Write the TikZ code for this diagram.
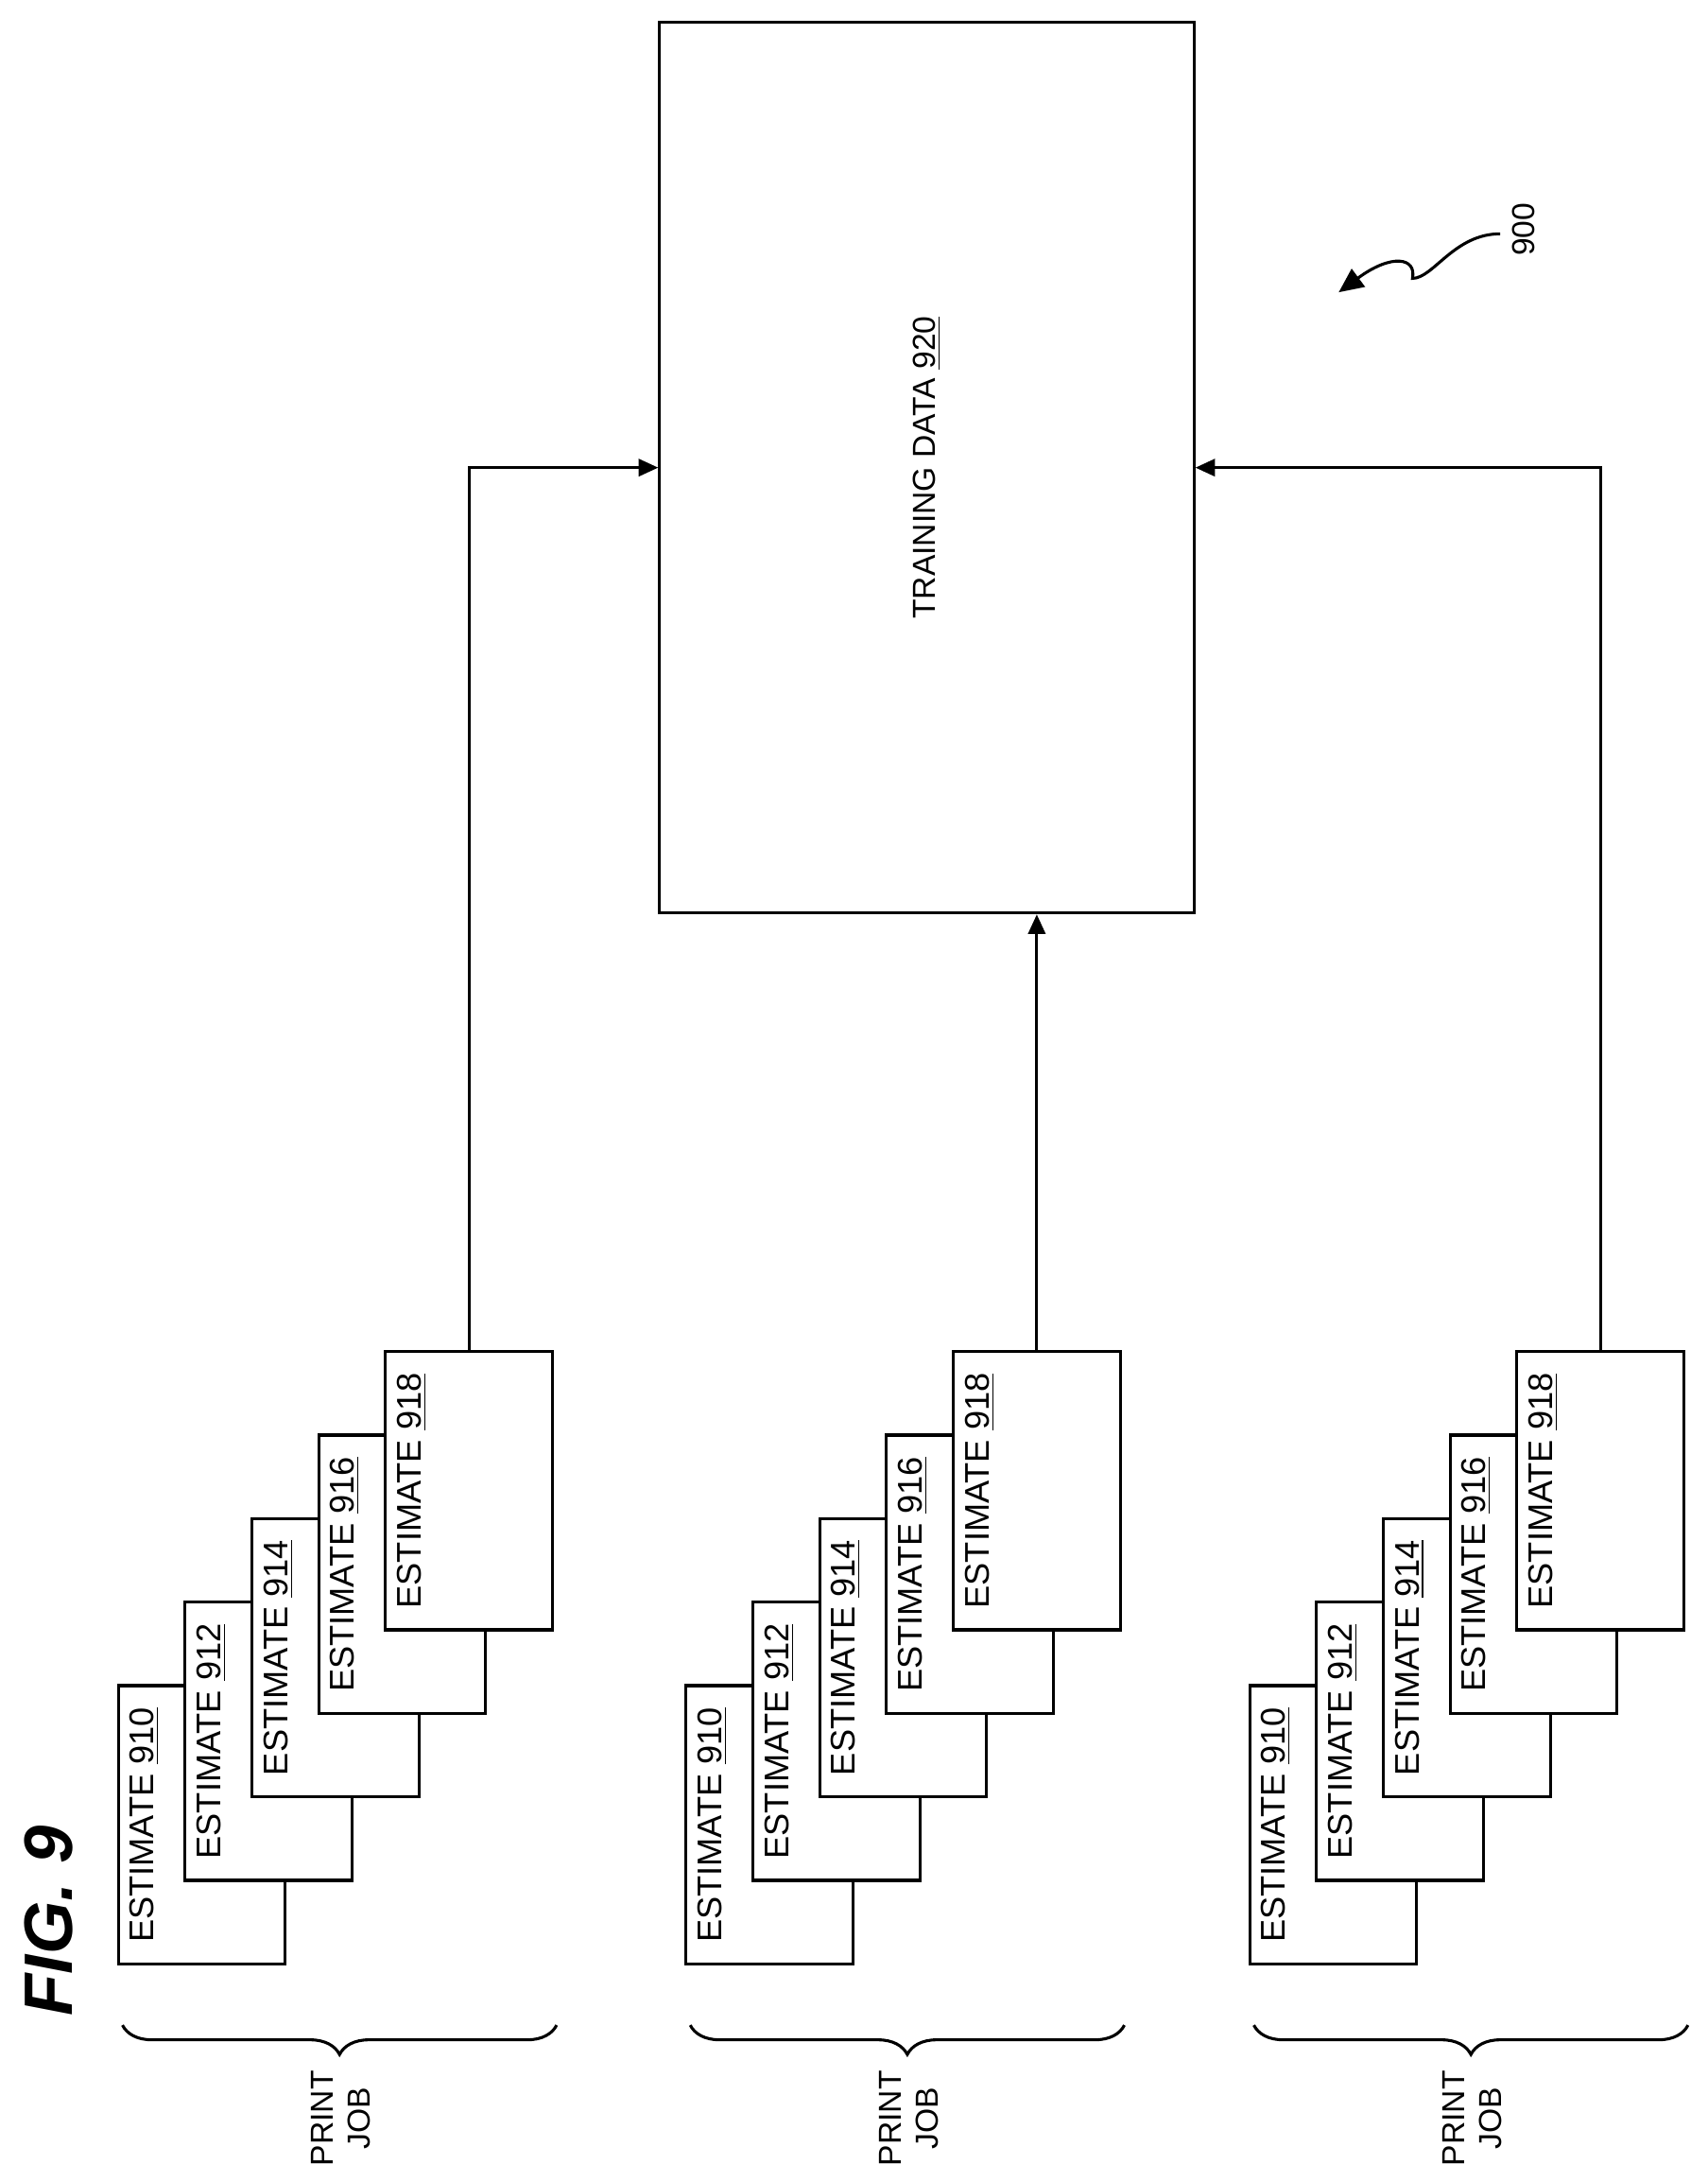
\documentclass[tikz,border=0pt]{standalone}
\usepackage{fontspec}
\setmainfont{Liberation Sans}
\usetikzlibrary{positioning, arrows.meta, decorations.pathreplacing}

\tikzset{
  sheet/.style={draw, thick, fill=white, line width=1.2pt, minimum width=2.4cm, minimum height=4cm, anchor=north west, inner sep=0pt},
  sheettext/.style={rotate=90, anchor=north west, font=\fontsize{14}{16}\selectfont, inner sep=0pt},
  link/.style={line width=1.2pt, -{Triangle[width=7pt,length=8pt]}},
}

\begin{document}
\begin{tikzpicture}[x=0.02cm, y=-0.02cm]
  \useasboundingbox (0,0) rectangle (1227,1567);

  % training data box
  \node[draw, line width=1.2pt, minimum width=7.68cm, minimum height=12.8cm, anchor=north west] (train) at (473,15) {};
  \node[rotate=90, font=\fontsize{13}{15}\selectfont] (traintext) at (train.center) {TRAINING DATA \underline{920}};

  % three stacks of estimates
  \foreach \g/\dx in {1/0, 2/408, 3/813} {
    \foreach \i/\n in {0/910, 1/912, 2/914, 3/916, 4/918} {
      \node[sheet] (g\g e\n) at ({84+\dx+48*\i}, {1210-60*\i}) {};
      \node[sheettext] at ({84+\dx+48*\i+9}, {1410-60*\i-14}) {ESTIMATE \underline{\n}};
    }
    \draw[line width=1.2pt, decorate, decoration={brace, amplitude=12pt}] ({400+\dx},1455) coordinate (b\g e) -- ({88+\dx},1455) coordinate (b\g s);
    \node[rotate=90, align=center, font=\fontsize{13}{15}\selectfont] (job\g) at ({245+\dx},1522) {PRINT\\JOB};
  }

  % connectors
  \draw[link] (g1e918.north) |- (train.west);
  \draw[link] (g2e918.north) -- (g2e918.north |- train.south);
  \draw[link] (g3e918.north) |- (train.east);

  % reference numeral
  \node[rotate=90, font=\fontsize{13}{15}\selectfont] (ref) at (1095,165) {900};
  \coordinate (s900) at (1078,168);
  \draw[line width=1.2pt, -{Triangle[width=9pt,length=10pt]}] (s900) .. controls (1045,168) and (1030,200) .. (1015,200) .. controls (1018,185) and (1000,182) .. (962,210);

  % figure label
  \node[rotate=90, font=\fontsize{28}{32}\selectfont\bfseries\itshape] (fig) at (35,1380) {FIG. 9};
\end{tikzpicture}
\end{document}
